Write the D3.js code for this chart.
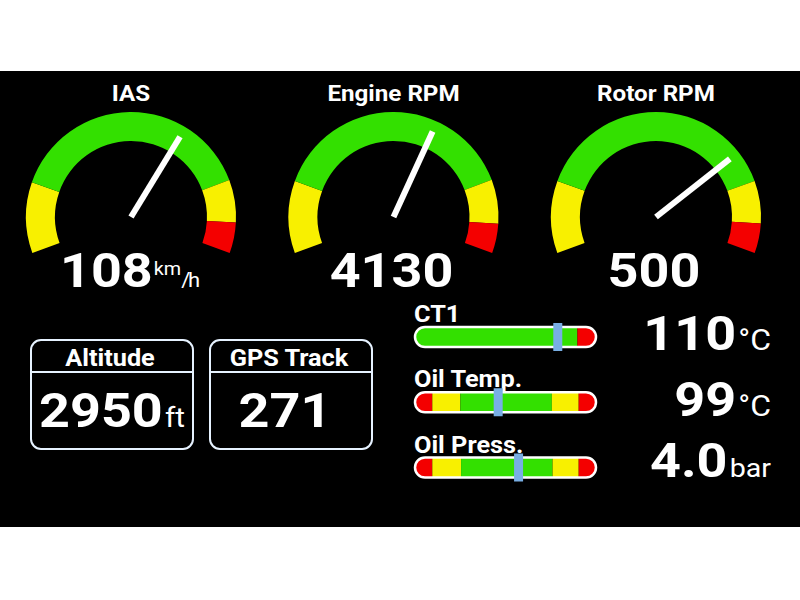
<!DOCTYPE html>
<html>
<head>
<meta charset="utf-8">
<script src="https://cdn.jsdelivr.net/npm/d3@7"></script>
<style>
  html, body { margin: 0; padding: 0; background: #ffffff; }
  svg { display: block; }
  text { font-family: Roboto, "DejaVu Sans", sans-serif; fill: #ffffff; }
</style>
</head>
<body>
<svg id="chart" width="800" height="600"></svg>
<script>
// ---------------- DATA ----------------
const gaugeTitles = ["IAS", "Engine RPM", "Rotor RPM"];
const gaugeValues = [108, 4130, 500];
const gaugeValueText = ["108", "4130", "500"];
const gaugeUnits = ["km/h", "", ""];
const gaugeRanges = [[0, 168], [0, 6750], [0, 680]];
const gaugeBandStops = [
  [0, 30, 137, 155, 168],
  [0, 1230, 5500, 6250, 6750],
  [0, 124, 556, 629, 680]
];
const gaugeBandColors = ["yellow", "green", "yellow", "red"];

const boxTitles = ["Altitude", "GPS Track"];
const boxValues = ["2950", "271"];
const boxUnits = ["ft", ""];

const barLabels = ["CT1", "Oil Temp.", "Oil Press."];
const barValues = [110, 99, 4.0];
const barValueText = ["110", "99", "4.0"];
const barUnits = ["°C", "°C", "bar"];
const barRanges = [[0, 140], [30, 180], [0, 7]];
const barBandStops = [
  [0, 125, 140],
  [30, 45, 68, 143, 165, 180],
  [0, 0.7, 1.8, 5.3, 6.3, 7]
];
const barBandColors = [
  ["green", "red"],
  ["red", "yellow", "green", "yellow", "red"],
  ["red", "yellow", "green", "yellow", "red"]
];

// ---------------- STYLE ----------------
const palette = { green: "#33e000", yellow: "#f8f000", red: "#f40000" };
const SX = 1.1; // horizontal text stretch

const svg = d3.select("#chart");
svg.append("rect").attr("x", 0).attr("y", 0).attr("width", 800).attr("height", 600).attr("fill", "#ffffff");
svg.append("rect").attr("x", 0).attr("y", 71).attr("width", 800).attr("height", 456).attr("fill", "#000000");

function stext(parent, x, y, anchor) {
  return parent.append("text")
    .attr("transform", `translate(${x},${y}) scale(${SX},1)`)
    .attr("text-anchor", anchor);
}

// ---------------- GAUGES ----------------
const gaugeX = d3.scalePoint().domain(d3.range(gaugeTitles.length)).range([131, 656]);
const gaugeCY = 217, rOuter = 105, rInner = 76, needleLen = 94;
const arcGen = d3.arc().innerRadius(rInner).outerRadius(rOuter);
const deg = Math.PI / 180;

gaugeTitles.forEach((title, i) => {
  const cx = gaugeX(i);
  const g = svg.append("g");
  const ang = d3.scaleLinear().domain(gaugeRanges[i]).range([-110, 110]);

  stext(g, cx, 101, "middle")
    .attr("font-size", 22).attr("font-weight", 700).text(title);

  const stops = gaugeBandStops[i];
  const bands = gaugeBandColors.map((c, k) => ({ a0: stops[k], a1: stops[k + 1], c }));
  g.selectAll("path.band").data(bands).enter().append("path")
    .attr("class", "band")
    .attr("transform", `translate(${cx},${gaugeCY})`)
    .attr("d", d => arcGen({ startAngle: ang(d.a0) * deg, endAngle: ang(d.a1) * deg }))
    .attr("fill", d => palette[d.c]);

  const a = ang(gaugeValues[i]) * deg;
  g.append("line")
    .attr("x1", cx).attr("y1", gaugeCY)
    .attr("x2", cx + needleLen * Math.sin(a))
    .attr("y2", gaugeCY - needleLen * Math.cos(a))
    .attr("stroke", "#ffffff").attr("stroke-width", 6);

  const t = stext(g, cx - 2, 287, "middle");
  t.append("tspan").attr("font-size", 49).attr("font-weight", 700).text(gaugeValueText[i]);
  if (gaugeUnits[i] === "km/h") {
    t.append("tspan").attr("font-size", 18).attr("dx", 1).attr("dy", -12).text("km");
    t.append("tspan").attr("font-size", 20).attr("dy", 12).attr("letter-spacing", -2).text("/h");
  }
});

// ---------------- BOXES ----------------
const boxX = d3.scalePoint().domain(d3.range(boxTitles.length)).range([31, 210]);
const boxW = 162, boxTop = 340, boxH = 109, boxDiv = 372;
boxTitles.forEach((title, i) => {
  const x = boxX(i);
  const g = svg.append("g");
  g.append("rect").attr("x", x).attr("y", boxTop).attr("width", boxW).attr("height", boxH)
    .attr("rx", 10).attr("fill", "none").attr("stroke", "#e6f2ff").attr("stroke-width", 2);
  g.append("line").attr("x1", x).attr("x2", x + boxW).attr("y1", boxDiv).attr("y2", boxDiv)
    .attr("stroke", "#e6f2ff").attr("stroke-width", 2);
  stext(g, x + boxW / 2 - 2, 366, "middle")
    .attr("font-size", 23).attr("font-weight", 700).text(title);
  const t = stext(g, x + boxW / 2 - (boxUnits[i] ? 0 : 6), 427, "middle");
  t.append("tspan").attr("font-size", 49).attr("font-weight", 700).text(boxValues[i]);
  if (boxUnits[i]) t.append("tspan").attr("font-size", 27).attr("dx", 2).text(boxUnits[i]);
});

// ---------------- BARS ----------------
const barY = d3.scalePoint().domain(d3.range(barLabels.length)).range([337, 467.5]);
const barX0 = 414, barX1 = 597, barH = 22;
const defs = svg.append("defs");
barLabels.forEach((label, i) => {
  const cy = barY(i);
  const g = svg.append("g");
  const xs = d3.scaleLinear().domain(barRanges[i]).range([barX0, barX1]);

  stext(g, 414, cy - 15, "start")
    .attr("font-size", 23).attr("font-weight", 700).text(label);

  const clipId = "barclip" + i;
  defs.append("clipPath").attr("id", clipId).append("rect")
    .attr("x", barX0 + 1).attr("y", cy - barH / 2 + 1)
    .attr("width", barX1 - barX0 - 2).attr("height", barH - 2).attr("rx", (barH - 2) / 2);

  const stops = barBandStops[i];
  const bands = barBandColors[i].map((c, k) => ({ v0: stops[k], v1: stops[k + 1], c }));
  g.append("g").attr("clip-path", `url(#${clipId})`)
    .selectAll("rect").data(bands).enter().append("rect")
    .attr("x", d => xs(d.v0)).attr("width", d => xs(d.v1) - xs(d.v0))
    .attr("y", cy - barH / 2).attr("height", barH)
    .attr("fill", d => palette[d.c]);

  g.append("rect")
    .attr("x", barX0 + 1).attr("y", cy - barH / 2 + 1)
    .attr("width", barX1 - barX0 - 2).attr("height", barH - 2).attr("rx", (barH - 2) / 2)
    .attr("fill", "none").attr("stroke", "#ffffff").attr("stroke-width", 2.5);

  g.append("rect")
    .attr("x", xs(barValues[i]) - 4.5).attr("width", 9)
    .attr("y", cy - barH / 2 - 3).attr("height", barH + 6)
    .attr("fill", "#78aee4");

  const baseY = [350, 416, 477][i];
  const t = stext(g, 771, baseY, "end");
  t.append("tspan").attr("font-size", 49).attr("font-weight", 700).text(barValueText[i]);
  t.append("tspan").attr("font-size", barUnits[i] === "bar" ? 26 : 29).attr("dx", 2).text(barUnits[i]);
});
</script>
</body>
</html>
